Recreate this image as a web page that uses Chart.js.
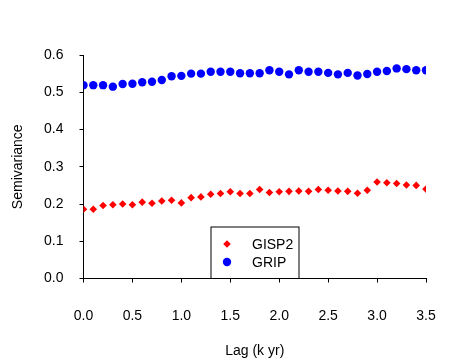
<!DOCTYPE html>
<html>
<head>
<meta charset="utf-8">
<script src="https://cdn.jsdelivr.net/npm/chart.js@4"></script>
<style>
  body { margin:0; background:#fff; }
  canvas { display:block; }
</style>
</head>
<body>
<canvas id="semiChart" width="452" height="362"></canvas>
<script>
const lags = [0.0,0.1,0.2,0.3,0.4,0.5,0.6,0.7,0.8,0.9,1.0,1.1,1.2,1.3,1.4,1.5,1.6,1.7,1.8,
              1.9,2.0,2.1,2.2,2.3,2.4,2.5,2.6,2.7,2.8,2.9,3.0,3.1,3.2,3.3,3.4,3.5];

const gisp2 = [0.186,0.186,0.196,0.198,0.200,0.198,0.205,0.202,0.208,0.210,0.203,0.217,0.219,0.226,0.228,0.233,0.228,0.228,0.239,
               0.231,0.233,0.234,0.235,0.234,0.239,0.237,0.235,0.234,0.229,0.237,0.259,0.257,0.255,0.251,0.250,0.240];

const grip = [0.519,0.519,0.519,0.515,0.522,0.523,0.527,0.528,0.533,0.543,0.544,0.550,0.550,0.555,0.555,0.555,0.551,0.551,0.551,
              0.559,0.555,0.548,0.559,0.555,0.555,0.552,0.548,0.552,0.545,0.549,0.555,0.557,0.564,0.562,0.559,0.559];

const xTicks = [0,0.5,1,1.5,2,2.5,3,3.5];
const yTicks = [0,0.1,0.2,0.3,0.4,0.5,0.6];

const FONT = "'Liberation Sans', Arial, sans-serif";

// legend box drawn inside the plot, sitting on the x axis
const boxLegend = {
    id:"boxLegend",
    afterDraw(chart){
        const ctx = chart.ctx;
        const area = chart.chartArea;
        const left = area.left + 127.5;
        const top = area.top + 172;
        const w = 88;
        const h = area.bottom - top;

        ctx.save();
        ctx.fillStyle = "#fff";
        ctx.fillRect(left, top, w, h);
        ctx.strokeStyle = "#000";
        ctx.lineWidth = 1;
        ctx.strokeRect(left, top, w, h);

        ctx.font = "14px " + FONT;
        ctx.textBaseline = "middle";

        chart.data.datasets.forEach((ds,i)=>{
            const y = top + 17 + i*18;
            ctx.fillStyle = ds.backgroundColor;
            ctx.strokeStyle = ds.backgroundColor;
            Chart.helpers.drawPoint(ctx,{
                pointStyle:ds.pointStyle,
                radius:ds.pointRadius,
                borderWidth:0,
                rotation:0
            }, left + 16, y);
            ctx.fillStyle = "#000";
            ctx.fillText(ds.label, left + 41, y + 1);
        });
        ctx.restore();
    }
};

const ctx = document.getElementById("semiChart").getContext("2d");

new Chart(ctx,{
    type:"scatter",
    data:{
        datasets:[
            {
                label:"GISP2",
                data:lags.map((x,i)=>({x, y:gisp2[i]})),
                pointStyle:"rectRot",
                pointRadius:3.8,
                backgroundColor:"#ff0000",
                borderColor:"#ff0000",
                borderWidth:0
            },
            {
                label:"GRIP",
                data:lags.map((x,i)=>({x, y:grip[i]})),
                pointStyle:"circle",
                pointRadius:4.2,
                backgroundColor:"#0000ff",
                borderColor:"#0000ff",
                borderWidth:0
            }
        ]
    },
    options:{
        responsive:false,
        animation:false,
        layout:{ padding:{ left:0, right:26, top:55, bottom:0 } },
        plugins:{ legend:{ display:false }, tooltip:{ enabled:false } },
        scales:{
            x:{
                type:"linear",
                min:0, max:3.5,
                afterBuildTicks(scale){ scale.ticks = xTicks.map(v=>({value:v})); },
                afterFit(scale){
                    scale.height = 83.5;
                    scale.paddingLeft = 0;
                    scale.paddingRight = 0;
                },
                ticks:{
                    color:"#000",
                    font:{ family:FONT, size:14 },
                    padding:25,
                    maxRotation:0,
                    callback:v=>v.toFixed(1)
                },
                grid:{ display:true, drawOnChartArea:false, drawTicks:true, tickLength:4, color:"#000" },
                border:{ display:true, color:"#000", width:1 },
                title:{
                    display:true,
                    text:"Lag (k yr)",
                    color:"#000",
                    font:{ family:FONT, size:14 },
                    padding:{ top:0, bottom:2 }
                }
            },
            y:{
                type:"linear",
                min:0, max:0.6,
                afterBuildTicks(scale){ scale.ticks = yTicks.map(v=>({value:v})); },
                afterFit(scale){
                    scale.width = 83.5;
                    scale.paddingTop = 0;
                    scale.paddingBottom = 0;
                },
                ticks:{
                    color:"#000",
                    font:{ family:FONT, size:14 },
                    padding:16,
                    callback:v=>v.toFixed(1)
                },
                grid:{ display:true, drawOnChartArea:false, drawTicks:true, tickLength:4, color:"#000" },
                border:{ display:true, color:"#000", width:1 },
                title:{
                    display:true,
                    text:"Semivariance",
                    color:"#000",
                    font:{ family:FONT, size:14 },
                    padding:{ top:10, bottom:0 }
                }
            }
        }
    },
    plugins:[boxLegend]
});
</script>
</body>
</html>
